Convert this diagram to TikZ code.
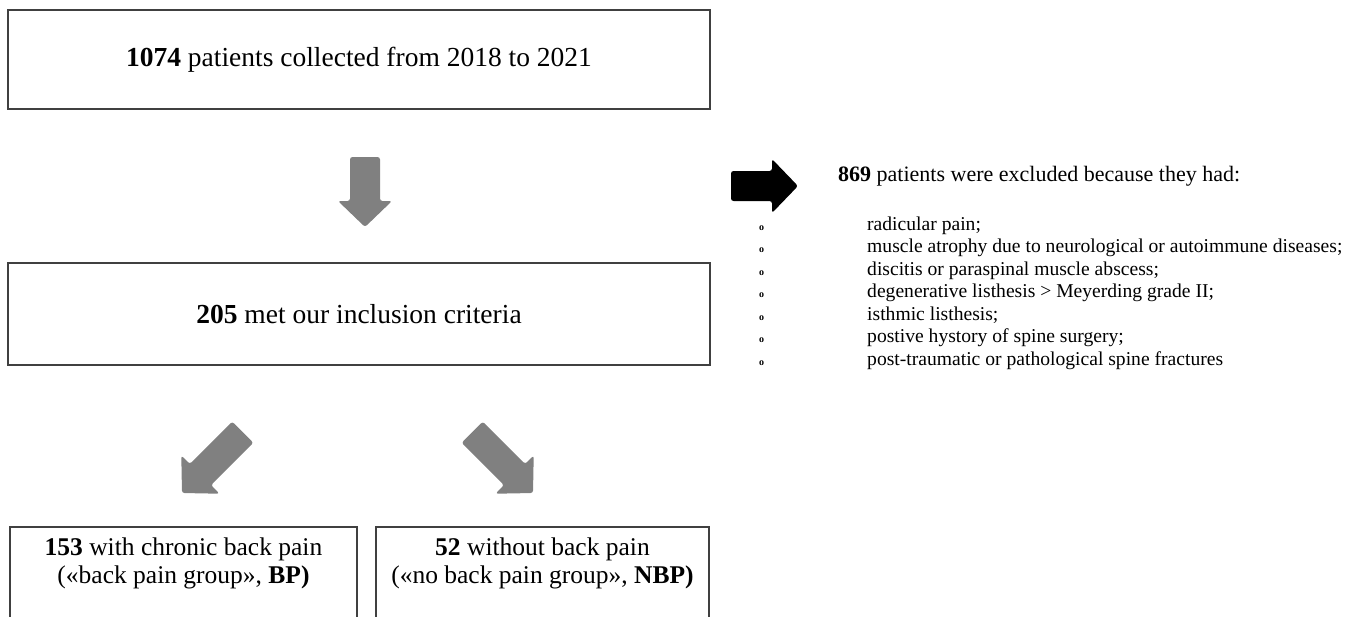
\documentclass[tikz,border=0pt]{standalone}
\usepackage{fontspec}
\setmainfont{Liberation Serif}
\usetikzlibrary{positioning}

% block arrow: style, tip, angle, length
\newcommand{\blockarrow}[4]{%
  \fill[#1, rounded corners=2.5pt, shift={#2}, rotate=#3]
    (0,0) -- (-26pt,27pt) -- (-26pt,15pt) -- (-#4pt,15pt) -- (-#4pt,-15pt)
    -- (-26pt,-15pt) -- (-26pt,-27pt) -- cycle;}

\begin{document}
\begin{tikzpicture}[x=1pt, y=-1pt,
    box/.style={
      rectangle,
      draw=black!75,
      line width=1.5pt,
      inner sep=0pt,
      align=center,
      font=\fontsize{27.5}{30}\selectfont
    },
    boxtext/.style={
      inner sep=0pt,
      align=center,
      font=\fontsize{25.5}{28}\selectfont
    },
    reason/.style={
      anchor=base west,
      inner sep=0pt,
      font=\fontsize{19.6}{22}\selectfont
    },
    grayarrow/.style={fill=black!50},
    darkarrow/.style={fill=black}
]
\clip (0,0) rectangle (1364,616);

\node [box, minimum width=702pt, minimum height=99pt] (collected) at (359,59.5) {\textbf{1074} patients collected from 2018 to 2021};
\node [box, minimum width=702pt, minimum height=102pt] (included) at (359,314) {\textbf{205} met our inclusion criteria};
\node [box, minimum width=347pt, minimum height=110pt, anchor=north] (bp) at (183.5,526) {};
\node [box, minimum width=333pt, minimum height=110pt, anchor=north] (nbp) at (542.5,526) {};

\node [boxtext, below=12pt of bp.north] (bptext) {\textbf{153} with chronic back pain\\(«back pain group», \textbf{BP)}};
\node [boxtext, below=12pt of nbp.north] (nbptext) {\textbf{52} without back pain\\(«no back pain group», \textbf{NBP)}};

%% Excluded
\node [anchor=west, inner sep=0pt, font=\fontsize{22}{26}\selectfont] (excluded) at (838,176) {\textbf{869} patients were excluded because they had:};
\foreach \why [count=\i] in {{radicular pain;},
    {muscle atrophy due to neurological or autoimmune diseases;},
    {discitis or paraspinal muscle abscess;},
    {degenerative listhesis > Meyerding grade II;},
    {isthmic listhesis;},
    {postive hystory of spine surgery;},
    {post-traumatic or pathological spine fractures}}
  \node [reason] (why\i) at (759,{207.5+22.5*\i}) {\makebox[108pt][l]{\fontsize{10}{10}\selectfont\textbf{o}}\why};

%%% Arrows
\coordinate (downtip) at (365,227);
\coordinate (bptip) at (182,493);
\coordinate (nbptip) at (533,493);
\coordinate (extip) at (798,186);
\blockarrow{grayarrow}{(downtip)}{-90}{70}
\blockarrow{grayarrow}{(bptip)}{-135}{86}
\blockarrow{grayarrow}{(nbptip)}{-45}{86}
\blockarrow{darkarrow}{(extip)}{0}{67}
\end{tikzpicture}
\end{document}
